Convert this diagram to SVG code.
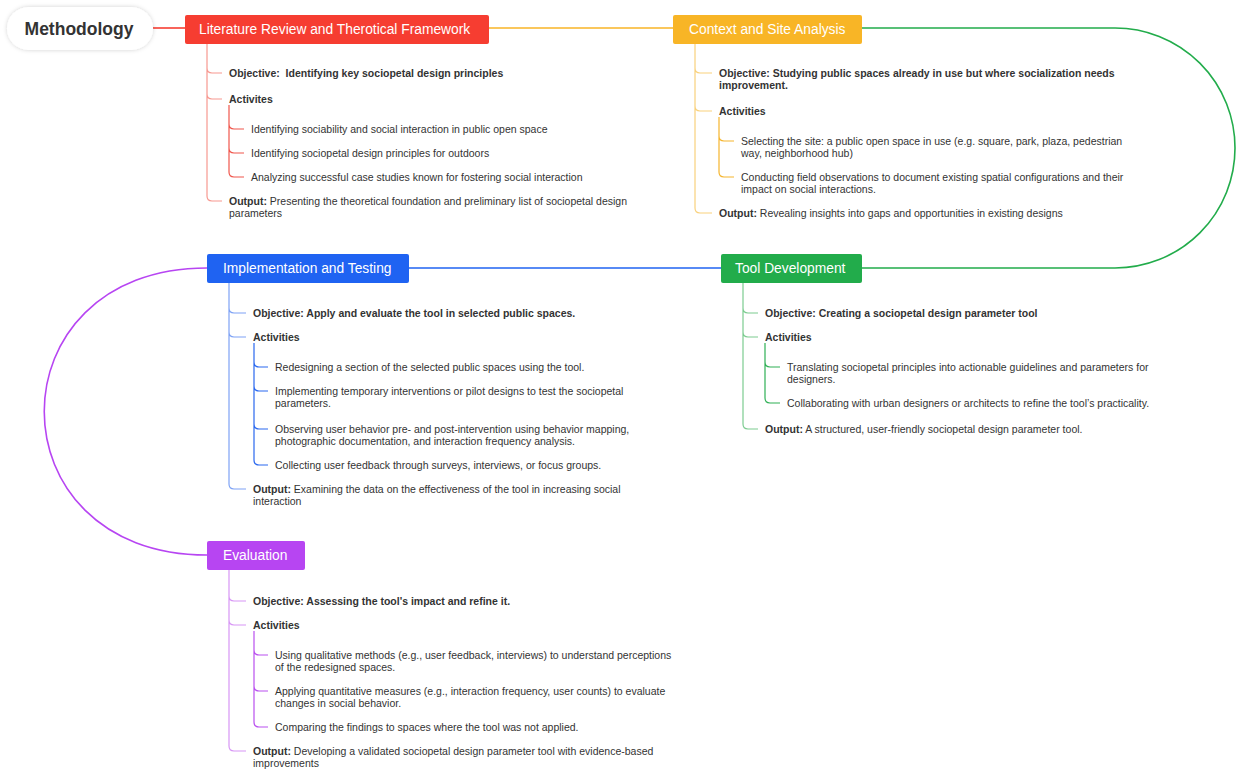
<svg xmlns="http://www.w3.org/2000/svg" width="1240" height="772" viewBox="0 0 1240 772">
<style>
text{font-family:"Liberation Sans",Arial,sans-serif;fill:#333}
.t{font-size:10.5px}
.b{font-weight:bold}
.n{font-size:13.8px;fill:#fff}
.br{fill:none;stroke-width:1.2}
.r{stroke:#f79890}.rd{stroke:#f0564c}
.o{stroke:#f9d17c}.od{stroke:#f5b52e}
.g{stroke:#7ccc90}.gd{stroke:#2fb055}
.bl{stroke:#7ea2f5}.bld{stroke:#2a68ef}
.p{stroke:#d796f5}.pd{stroke:#b950ef}
</style>
<defs><filter id="sh" x="-20%" y="-30%" width="140%" height="160%"><feDropShadow dx="0" dy="0" stdDeviation="2" flood-color="#000" flood-opacity="0.18"/></filter></defs>
<g id="connectors" fill="none" stroke-width="1.6">
<path d="M153,28 H185" stroke="#f63d31"/>
<path d="M489,28 H673" stroke="#f8b526"/>
<path d="M862,28 H1115 A120,120 0 0 1 1115,268 H862" stroke="#22ac4b"/>
<path d="M409,268 H721" stroke="#1f63f2"/>
<path d="M207,268 C-10,268 -10,555 207,555" stroke="#b745f2"/>
</g>
<g id="root"><rect x="7" y="7" width="146" height="43" rx="21.5" fill="#fff" filter="url(#sh)"/><text x="79" y="35" text-anchor="middle" font-size="17.5" font-weight="bold">Methodology</text></g>

<g id="lit">
<rect x="185" y="15" width="304" height="29" rx="2" fill="#f63d31"/><text class="n" x="199" y="34">Literature Review and Therotical Framework</text>
<path class="br r" d="M207,44 V68 Q207,73 212,73 H222 M207,44 V94 Q207,99 212,99 H222 M207,44 V196 Q207,201 212,201 H222"/>
<path class="br rd" d="M229,105 V124 Q229,129 234,129 H244 M229,105 V148 Q229,153 234,153 H244 M229,105 V172 Q229,177 234,177 H244"/>
<text class="t b" x="229" y="77">Objective:&#160; Identifying key sociopetal design principles</text>
<text class="t b" x="229" y="103">Activites</text>
<text class="t" x="251" y="133">Identifying sociability and social interaction in public open space</text>
<text class="t" x="251" y="157">Identifying sociopetal design principles for outdoors</text>
<text class="t" x="251" y="181">Analyzing successful case studies known for fostering social interaction</text>
<text class="t" x="229" y="205"><tspan class="b">Output:</tspan> Presenting the theoretical foundation and preliminary list of sociopetal design</text>
<text class="t" x="229" y="217">parameters</text>
</g>

<g id="context">
<rect x="673" y="15" width="189" height="29" rx="2" fill="#f8b526"/><text class="n" x="689" y="34">Context and Site Analysis</text>
<path class="br o" d="M695,44 V68 Q695,73 700,73 H712 M695,44 V106 Q695,111 700,111 H712 M695,44 V208 Q695,213 700,213 H712"/>
<path class="br od" d="M719,117 V136 Q719,141 724,141 H734 M719,117 V172 Q719,177 724,177 H734"/>
<text class="t b" x="719" y="77">Objective: Studying public spaces already in use but where socialization needs</text>
<text class="t b" x="719" y="89">improvement.</text>
<text class="t b" x="719" y="115">Activities</text>
<text class="t" x="741" y="145">Selecting the site: a public open space in use (e.g. square, park, plaza, pedestrian</text>
<text class="t" x="741" y="157">way, neighborhood hub)</text>
<text class="t" x="741" y="181">Conducting field observations to document existing spatial configurations and their</text>
<text class="t" x="741" y="193">impact on social interactions.</text>
<text class="t" x="719" y="217"><tspan class="b">Output:</tspan> Revealing insights into gaps and opportunities in existing designs</text>
</g>

<g id="tool">
<rect x="721" y="254" width="141" height="29" rx="2" fill="#22ac4b"/><text class="n" x="735" y="273">Tool Development</text>
<path class="br g" d="M743,283 V308 Q743,313 748,313 H758 M743,283 V332 Q743,337 748,337 H758 M743,283 V424 Q743,429 748,429 H758"/>
<path class="br gd" d="M765,343 V362 Q765,367 770,367 H780 M765,343 V398 Q765,403 770,403 H780"/>
<text class="t b" x="765" y="317">Objective: Creating a sociopetal design parameter tool</text>
<text class="t b" x="765" y="341">Activities</text>
<text class="t" x="787" y="371">Translating sociopetal principles into actionable guidelines and parameters for</text>
<text class="t" x="787" y="383">designers.</text>
<text class="t" x="787" y="407">Collaborating with urban designers or architects to refine the tool’s practicality.</text>
<text class="t" x="765" y="433"><tspan class="b">Output:</tspan> A structured, user-friendly sociopetal design parameter tool.</text>
</g>

<g id="impl">
<rect x="207" y="254" width="202" height="29" rx="2" fill="#1f63f2"/><text class="n" x="223" y="273">Implementation and Testing</text>
<path class="br bl" d="M229,283 V308 Q229,313 234,313 H246 M229,283 V332 Q229,337 234,337 H246 M229,283 V484 Q229,489 234,489 H246"/>
<path class="br bld" d="M254,343 V362 Q254,367 259,367 H268 M254,343 V386 Q254,391 259,391 H268 M254,343 V424 Q254,429 259,429 H268 M254,343 V460 Q254,465 259,465 H268"/>
<text class="t b" x="253" y="317">Objective: Apply and evaluate the tool in selected public spaces.</text>
<text class="t b" x="253" y="341">Activities</text>
<text class="t" x="275" y="371">Redesigning a section of the selected public spaces using the tool.</text>
<text class="t" x="275" y="395">Implementing temporary interventions or pilot designs to test the sociopetal</text>
<text class="t" x="275" y="407">parameters.</text>
<text class="t" x="275" y="433">Observing user behavior pre- and post-intervention using behavior mapping,</text>
<text class="t" x="275" y="445">photographic documentation, and interaction frequency analysis.</text>
<text class="t" x="275" y="469">Collecting user feedback through surveys, interviews, or focus groups.</text>
<text class="t" x="253" y="493"><tspan class="b">Output:</tspan> Examining the data on the effectiveness of the tool in increasing social</text>
<text class="t" x="253" y="505">interaction</text>
</g>

<g id="eval">
<rect x="207" y="541" width="98" height="29" rx="2" fill="#b745f2"/><text class="n" x="223" y="560">Evaluation</text>
<path class="br p" d="M229,570 V596 Q229,601 234,601 H246 M229,570 V620 Q229,625 234,625 H246 M229,570 V746 Q229,751 234,751 H246"/>
<path class="br pd" d="M254,631 V650 Q254,655 259,655 H268 M254,631 V686 Q254,691 259,691 H268 M254,631 V722 Q254,727 259,727 H268"/>
<text class="t b" x="253" y="605">Objective: Assessing the tool's impact and refine it.</text>
<text class="t b" x="253" y="629">Activities</text>
<text class="t" x="275" y="659">Using qualitative methods (e.g., user feedback, interviews) to understand perceptions</text>
<text class="t" x="275" y="671">of the redesigned spaces.</text>
<text class="t" x="275" y="695">Applying quantitative measures (e.g., interaction frequency, user counts) to evaluate</text>
<text class="t" x="275" y="707">changes in social behavior.</text>
<text class="t" x="275" y="731">Comparing the findings to spaces where the tool was not applied.</text>
<text class="t" x="253" y="755"><tspan class="b">Output:</tspan> Developing a validated sociopetal design parameter tool with evidence-based</text>
<text class="t" x="253" y="767">improvements</text>
</g>
</svg>
